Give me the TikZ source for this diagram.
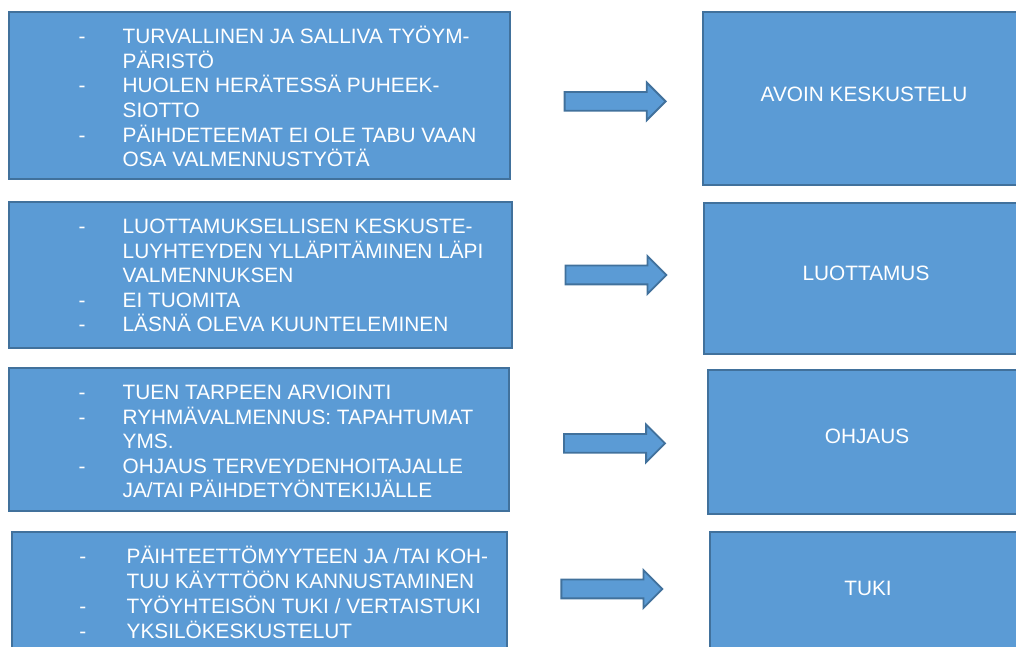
\documentclass[tikz,border=0pt]{standalone}
\usepackage{fontspec}
\setmainfont{Liberation Sans}
\usepackage{tikz}
\usetikzlibrary{shapes.arrows}

\definecolor{boxblue}{HTML}{5B9BD5}
\definecolor{edgeblue}{HTML}{41719C}

\newcommand{\listfont}{\fontsize{14.8pt}{17.43pt}\selectfont}

\tikzset{
  box/.style={rectangle, draw=edgeblue, fill=boxblue, line width=1.3pt, inner sep=0pt},
  lista/.style={anchor=base west, inner sep=0pt, text=white, font=\listfont},
  title/.style={inner sep=0pt, text=white, font=\listfont},
  nuoli/.style={single arrow, draw=edgeblue, fill=boxblue, line width=1.3pt,
    inner xsep=0pt, inner ysep=0.2125cm, minimum height=2.525cm,
    single arrow head extend=0.2375cm, single arrow tip angle=90}
}

\begin{document}
\begin{tikzpicture}
\useasboundingbox (0,0) rectangle (25.4,16.175);
\clip (0,0) rectangle (25.4,16.175);

% left boxes
\node[box, minimum width=12.525cm, minimum height=4.175cm] (b1) at (6.49, 13.7875) {};
\node[box, minimum width=12.575cm, minimum height=3.65cm] (b2) at (6.51, 9.3) {};
\node[box, minimum width=12.5cm, minimum height=3.575cm] (b3) at (6.475, 5.1875) {};
\node[box, minimum width=12.375cm, minimum height=3.75cm] (b4) at (6.49, 1.0) {};

\node[lista] (l1) at (1.96, 15.0925) {\begin{tabular}[t]{@{}p{1.1cm}@{}l@{}}
- & TURVALLINEN JA SALLIVA TYÖYM-\\
  & PÄRISTÖ\\
- & HUOLEN HERÄTESSÄ PUHEEK-\\
  & SIOTTO\\
- & PÄIHDETEEMAT EI OLE TABU VAAN\\
  & OSA VALMENNUSTYÖTÄ
\end{tabular}};
\node[lista] (l2) at (1.96, 10.3425) {\begin{tabular}[t]{@{}p{1.1cm}@{}l@{}}
- & LUOTTAMUKSELLISEN KESKUSTE-\\
  & LUYHTEYDEN YLLÄPITÄMINEN LÄPI\\
  & VALMENNUKSEN\\
- & EI TUOMITA\\
- & LÄSNÄ OLEVA KUUNTELEMINEN
\end{tabular}};
\node[lista] (l3) at (1.96, 6.1925) {\begin{tabular}[t]{@{}p{1.1cm}@{}l@{}}
- & TUEN TARPEEN ARVIOINTI\\
- & RYHMÄVALMENNUS: TAPAHTUMAT\\
  & YMS.\\
- & OHJAUS TERVEYDENHOITAJALLE\\
  & JA/TAI PÄIHDETYÖNTEKIJÄLLE
\end{tabular}};
\node[lista] (l4) at (1.98, 2.075) {\begin{tabular}[t]{@{}p{1.18cm}@{}l@{}}
- & PÄIHTEETTÖMYYTEEN JA /TAI KOH-\\
  & TUU KÄYTTÖÖN KANNUSTAMINEN\\
- & TYÖYHTEISÖN TUKI / VERTAISTUKI\\
- & YKSILÖKESKUSTELUT
\end{tabular}};

% arrows
\node[nuoli] (n1) at (15.26, 13.64) {};
\node[nuoli] (n2) at (15.28, 9.3) {};
\node[nuoli] (n3) at (15.245, 5.09) {};
\node[nuoli] (n4) at (15.18, 1.45) {};

% right boxes
\node[box, minimum width=8.05cm, minimum height=4.325cm] (r1) at (21.6, 13.7125) {};
\node[box, minimum width=8.1cm, minimum height=3.775cm] (r2) at (21.65, 9.2125) {};
\node[box, minimum width=7.95cm, minimum height=3.6cm] (r3) at (21.675, 5.125) {};
\node[box, minimum width=7.9cm, minimum height=3.7cm] (r4) at (21.7, 1.025) {};

\node[title] (k1) at (21.6, 13.825) {AVOIN KESKUSTELU};
\node[title] (k2) at (21.65, 9.35) {LUOTTAMUS};
\node[title] (k3) at (21.675, 5.2625) {OHJAUS};
\node[title] (k4) at (21.7, 1.475) {TUKI};
\end{tikzpicture}
\end{document}
